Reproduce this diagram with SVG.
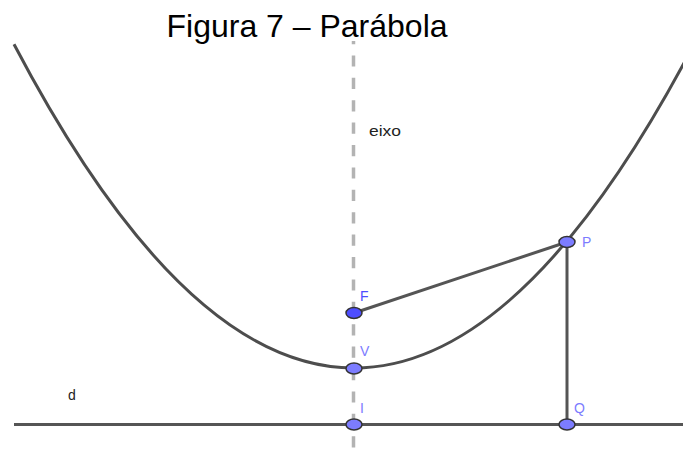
<svg xmlns="http://www.w3.org/2000/svg" width="683" height="452" viewBox="0 0 683 452">
  <style>
    .curve { fill: none; stroke: #4d4d4d; stroke-width: 3; }
    .seg { fill: none; stroke: #555555; stroke-width: 3; }
    .axis { fill: none; stroke: #b3b3b3; stroke-width: 3.5; stroke-dasharray: 11.2 11.2; }
    .pt { fill: #7c7cff; stroke: #333333; stroke-width: 1.5; }
    .ptdark { fill: #4d4dff; stroke: #333333; stroke-width: 1.5; }
    .lbl { font-family: "Liberation Sans", Arial, sans-serif; font-size: 14px; fill: #7c7cff; }
    .lbldark { font-family: "Liberation Sans", Arial, sans-serif; font-size: 14px; fill: #4d4dff; }
    .txt { font-family: "Liberation Sans", Arial, sans-serif; font-size: 14px; fill: #222222; }
    .title { font-family: "Liberation Sans", Arial, sans-serif; font-size: 32px; fill: #000000; }
  </style>
  <rect width="683" height="452" fill="#ffffff"/>
  <text class="title" x="307" y="37" text-anchor="middle">Figura 7 – Parábola</text>
  <g id="connectors">
    <line id="axis" class="axis" x1="353.5" y1="41" x2="353.5" y2="452" stroke-dashoffset="8"/>
    <line id="directrix" class="seg" x1="14" y1="424.5" x2="683" y2="424.5"/>
    <path id="parabola" class="curve" d="M14,44.3 Q354,691.7 694,44.3"/>
    <line id="FP" class="seg" x1="354" y1="313" x2="567" y2="242"/>
    <line id="PQ" class="seg" x1="567" y1="242" x2="567" y2="424"/>
  </g>
  <g id="label-eixo"><text class="txt" x="369" y="136" textLength="32" lengthAdjust="spacingAndGlyphs">eixo</text></g>
  <g id="label-d"><text class="txt" x="68" y="400">d</text></g>
  <g id="node-F">
    <ellipse class="ptdark" cx="354" cy="313" rx="8" ry="5.5"/>
    <text class="lbldark" x="360" y="301">F</text>
  </g>
  <g id="node-V">
    <ellipse class="pt" cx="354" cy="368.5" rx="8" ry="5.5"/>
    <text class="lbl" x="360" y="356">V</text>
  </g>
  <g id="node-I">
    <ellipse class="pt" cx="354" cy="424.5" rx="8" ry="5.5"/>
    <text class="lbl" x="360" y="413">I</text>
  </g>
  <g id="node-P">
    <ellipse class="pt" cx="567" cy="242" rx="8" ry="5.5"/>
    <text class="lbl" x="582" y="247">P</text>
  </g>
  <g id="node-Q">
    <ellipse class="pt" cx="567" cy="424.5" rx="8" ry="5.5"/>
    <text class="lbl" x="574" y="413">Q</text>
  </g>
</svg>
